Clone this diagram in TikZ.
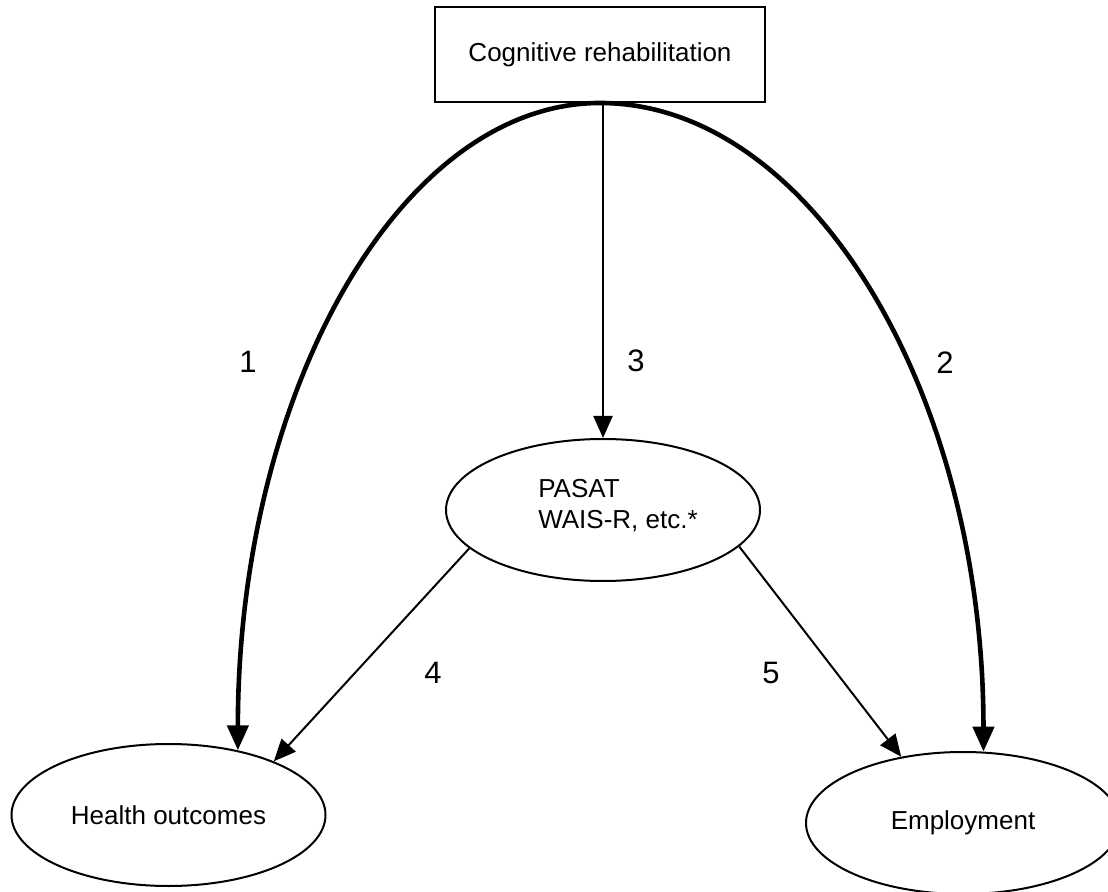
\documentclass[tikz,border=0pt]{standalone}
\usepackage{fontspec}
\setmainfont{Liberation Sans}
\usetikzlibrary{arrows.meta,shapes.geometric}

\begin{document}
\begin{tikzpicture}[x=0.5pt, y=-0.5pt,
    box/.style={rectangle, draw=black, line width=1pt, minimum width=165pt,
                minimum height=47.5pt, font=\fontsize{13}{15.5}\selectfont},
    oval/.style={ellipse, draw=black, line width=1pt, minimum width=157pt,
                 minimum height=71pt, inner sep=0pt, font=\fontsize{13}{15.5}\selectfont},
    txt/.style={font=\fontsize{13}{15.5}\selectfont, align=left},
    num/.style={font=\fontsize{15.5}{18}\selectfont},
    arr/.style={-{Triangle[length=11pt, width=9.5pt]}, line width=1pt},
    thick arr/.style={-{Triangle[length=12.5pt, width=10.5pt]}, line width=2.3pt}
  ]
  \useasboundingbox (0,0) rectangle (1108,892);

  % Boxes and ellipses
  \node[box] (cog) at (600,54.5) {Cognitive rehabilitation};
  \node[oval] (pasat) at (603,510) {};
  \node[txt] (pasattxt) at (618,506) {PASAT\\WAIS-R, etc.*};
  \node[oval] (health) at (168.5,815) {Health outcomes};
  \node[oval] (employ) at (963,823) {Employment};

  % Connections
  \draw[thick arr] (cog.south) .. controls +(-200,0) and +(0,-358) .. (health.43);
  \draw[thick arr] (cog.south) .. controls +(211,0) and +(0,-358) .. (employ.74.5);
  \draw[arr] (pasat.north |- cog.south) -- (pasat.north);
  \draw[arr] (pasat.196) -- (health.27);
  \draw[arr] (pasat.-15.5) -- (employ.133);

  % Path numbers
  \node[num] (n1) at (248,362) {1};
  \node[num] (n2) at (945,363) {2};
  \node[num] (n3) at (636,361) {3};
  \node[num] (n4) at (433,673) {4};
  \node[num] (n5) at (771,673) {5};
\end{tikzpicture}
\end{document}
